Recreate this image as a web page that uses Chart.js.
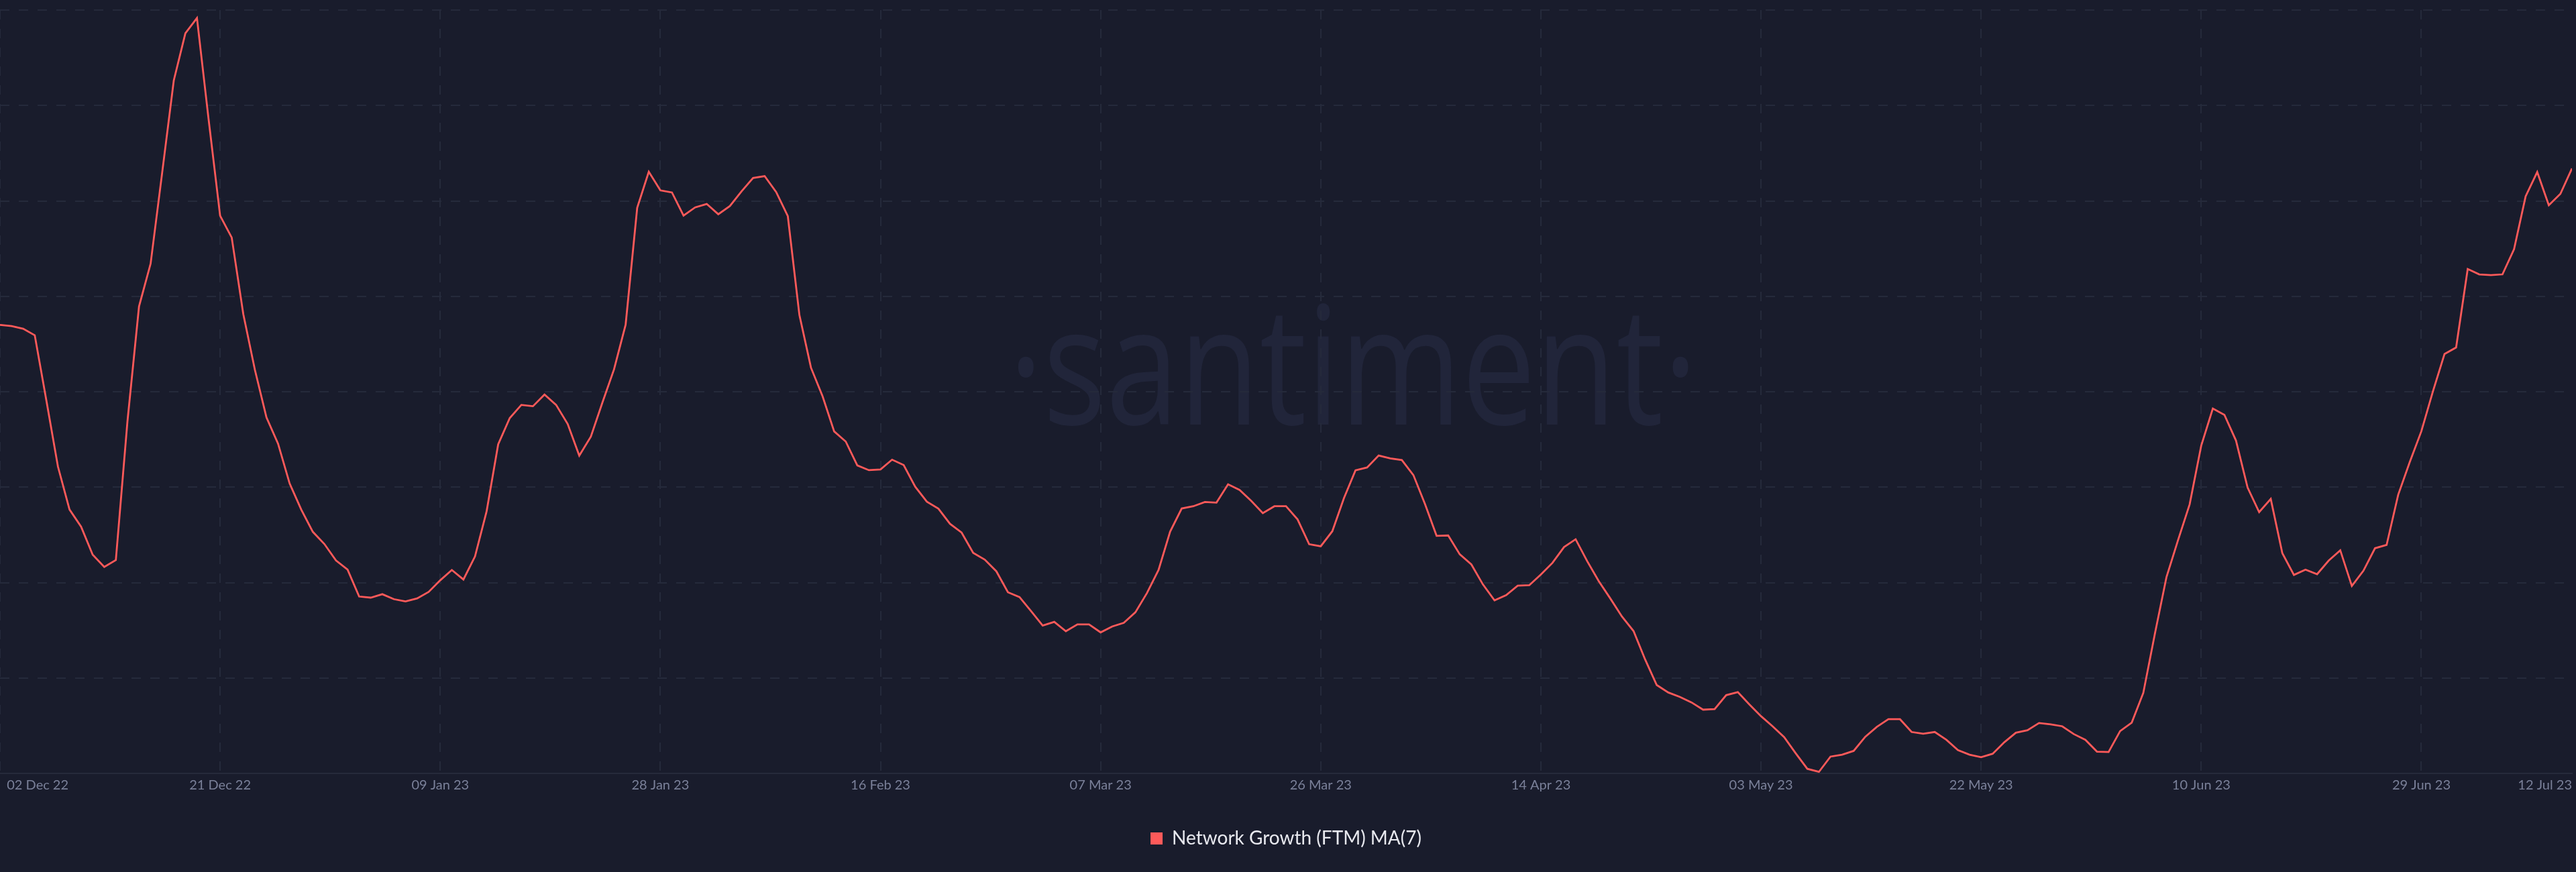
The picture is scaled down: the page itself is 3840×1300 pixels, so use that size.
<!DOCTYPE html>
<html>
<head>
<meta charset="utf-8">
<title>Network Growth (FTM) MA(7)</title>
<script src="https://cdn.jsdelivr.net/npm/chart.js@4.4.0/dist/chart.umd.min.js"></script>
<style>
    html, body { margin: 0; padding: 0; background: #191c2c; overflow: hidden; }
    canvas { display: block; }
</style>
</head>
<body>
<canvas id="chart" width="3840" height="1300"></canvas>
<script>
// Network Growth (FTM) MA(7), one value per day from 02 Dec 22 to 12 Jul 23
const START_DATE = Date.UTC(2022, 11, 2);
const MONTHS = ['Jan', 'Feb', 'Mar', 'Apr', 'May', 'Jun', 'Jul', 'Aug', 'Sep', 'Oct', 'Nov', 'Dec'];

// Values (axis has no labels, gridlines every 50)
const networkGrowth = [
    235.0, 234.4, 233.0, 229.6, 195.5, 160.8, 138.3, 129.3, 114.6, 108.2,
    111.8, 184.4, 244.7, 267.1, 314.9, 363.1, 387.8, 395.8, 343.0, 292.2,
    280.8, 240.7, 211.5, 186.5, 172.8, 151.9, 138.3, 126.6, 120.2, 111.6,
    106.8, 92.7, 92.1, 93.9, 91.3, 90.1, 91.7, 95.1, 101.2, 106.6,
    101.6, 113.7, 137.3, 172.4, 186.2, 193.1, 192.4, 198.5, 193.1, 183.1,
    166.5, 176.5, 194.4, 211.7, 235.1, 296.4, 315.3, 305.5, 304.4, 292.3,
    296.6, 298.4, 293.0, 297.3, 305.0, 312.0, 313.0, 304.6, 292.0, 240.2,
    212.6, 197.6, 179.2, 173.9, 161.4, 158.9, 159.3, 164.4, 161.6, 150.2,
    142.4, 138.7, 130.8, 126.2, 115.6, 112.0, 105.9, 94.9, 92.4, 85.0,
    77.5, 79.4, 74.5, 78.1, 78.1, 73.9, 77.0, 78.9, 84.4, 94.5,
    106.6, 126.7, 138.8, 140.0, 142.2, 141.9, 151.5, 148.5, 142.8, 136.4,
    140.0, 140.0, 133.1, 120.1, 119.0, 126.9, 144.2, 158.8, 160.3, 166.6,
    165.1, 164.2, 156.3, 141.1, 124.5, 124.7, 114.8, 109.5, 99.0, 90.7,
    93.4, 98.4, 98.6, 104.2, 110.3, 118.6, 122.7, 111.2, 100.7, 91.6,
    82.2, 74.6, 59.7, 46.3, 42.4, 40.1, 37.2, 33.4, 33.7, 41.0,
    42.6, 36.1, 30.0, 24.7, 19.0, 10.5, 2.4, 0.8, 8.8, 9.8,
    11.8, 19.2, 24.4, 28.4, 28.4, 21.7, 20.8, 21.7, 17.6, 12.2,
    9.8, 8.5, 10.3, 16.3, 21.3, 22.6, 26.4, 25.7, 24.7, 20.6,
    17.6, 11.4, 11.2, 22.2, 26.6, 42.2, 73.2, 102.9, 122.3, 141.0,
    171.8, 191.2, 187.9, 174.4, 149.8, 136.9, 143.8, 115.4, 104.0, 106.8,
    104.4, 111.5, 116.9, 98.2, 106.2, 118.0, 119.7, 146.0, 163.2, 179.3,
    200.2, 219.8, 223.2, 264.3, 261.5, 261.1, 261.5, 274.7, 302.4, 315.1,
    297.7, 303.7, 317.0
];

// x ticks, in days since the start: every 19 days, plus the last day
const tickDays = [0, 19, 38, 57, 76, 95, 114, 133, 152, 171, 190, 209, 222];

// y gridlines only
const yMin = 0;
const yMax = 400;
const yStep = 50;

const BG = '#191c2c';
const GRID = '#252a3b';
const LINE = '#ff5a5a';

function formatDay(day) {
    const d = new Date(START_DATE + day * 86400000);
    const dd = String(d.getUTCDate()).padStart(2, '0');
    const yy = String(d.getUTCFullYear()).slice(2);
    return `${dd} ${MONTHS[d.getUTCMonth()]} ${yy}`;
}

// Background fill and the santiment watermark
const backgroundPlugin = {
    id: 'background',
    beforeDraw(chart) {
        const { ctx, width, height } = chart;
        ctx.save();
        ctx.fillStyle = BG;
        ctx.fillRect(0, 0, width, height);

        const text = '\u00B7santiment\u00B7';
        ctx.font = "245px 'Open Sans', sans-serif";
        ctx.textAlign = 'center';
        ctx.textBaseline = 'alphabetic';
        const m = ctx.measureText(text);
        const ink = m.actualBoundingBoxLeft + m.actualBoundingBoxRight;
        ctx.translate(2017, 633);
        ctx.scale(1000 / ink, 1);
        ctx.fillStyle = '#21253a';
        ctx.fillText(text, (m.actualBoundingBoxLeft - m.actualBoundingBoxRight) / 2, 0);
        ctx.restore();
    }
};

Chart.defaults.font.family = "Lato, 'Noto Sans', sans-serif";
Chart.defaults.color = '#7a8099';

new Chart(document.getElementById('chart'), {
    type: 'line',
    data: {
        datasets: [{
            label: 'Network Growth (FTM) MA(7)',
            data: networkGrowth.map((v, i) => ({ x: i, y: v })),
            borderColor: LINE,
            backgroundColor: LINE,
            borderWidth: 2.8,
            pointRadius: 0,
            tension: 0,
            fill: false
        }]
    },
    options: {
        responsive: false,
        animation: false,
        devicePixelRatio: 1,
        layout: {
            padding: { top: 15, right: 6, bottom: 26, left: 0 }
        },
        scales: {
            x: {
                type: 'linear',
                min: 0,
                max: networkGrowth.length - 1,
                afterBuildTicks: scale => {
                    scale.ticks = tickDays.map(v => ({ value: v }));
                },
                afterFit: scale => {
                    scale.paddingLeft = 0;
                    scale.paddingRight = 0;
                },
                ticks: {
                    align: 'inner',
                    autoSkip: false,
                    maxRotation: 0,
                    padding: 6,
                    color: '#7a8099',
                    font: { size: 20 },
                    callback: (value, index) => (index === 0 ? '  ' : '') + formatDay(value)
                },
                grid: {
                    drawTicks: false,
                    lineWidth: 2,
                    color: ctx => (ctx.tick && ctx.tick.value === tickDays[tickDays.length - 1]) ? 'rgba(0,0,0,0)' : GRID
                },
                border: {
                    display: true,
                    color: '#262a3b',
                    width: 2,
                    dash: [14, 14]
                }
            },
            y: {
                min: yMin,
                max: yMax,
                ticks: { display: false, stepSize: yStep },
                grid: { drawTicks: false, lineWidth: 2, color: GRID },
                border: { display: false, dash: [14, 14] }
            }
        },
        plugins: {
            tooltip: { enabled: false },
            legend: {
                position: 'bottom',
                labels: {
                    color: '#e8e9ef',
                    font: { size: 28 },
                    boxWidth: 18,
                    boxHeight: 18,
                    padding: 47,
                    generateLabels: chart => Chart.defaults.plugins.legend.labels.generateLabels(chart)
                        .map(item => ({ ...item, lineWidth: 0 }))
                }
            }
        }
    },
    plugins: [backgroundPlugin]
});
</script>
</body>
</html>
